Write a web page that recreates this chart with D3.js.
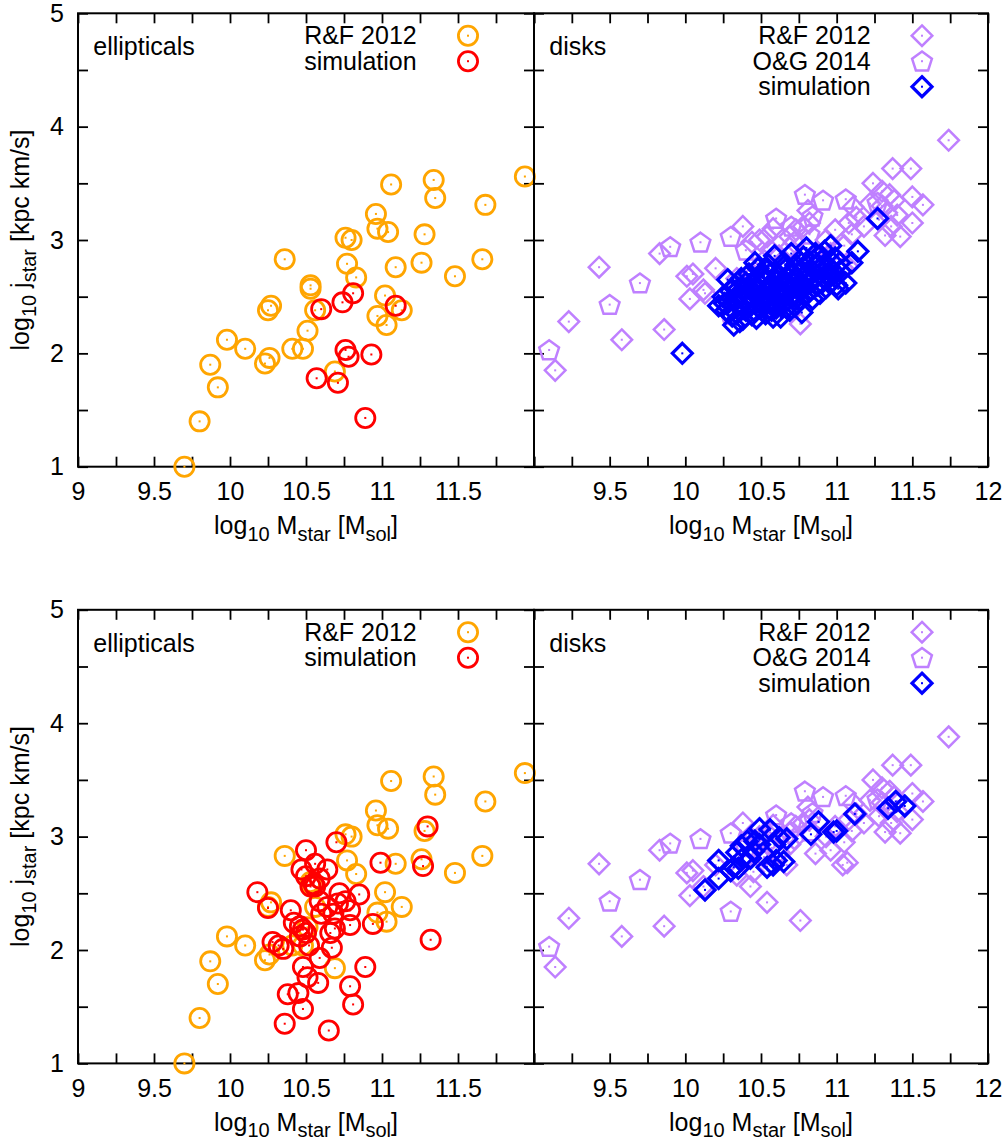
<!DOCTYPE html>
<html>
<head>
<meta charset="utf-8">
<script src="https://cdn.jsdelivr.net/npm/d3@7"></script>
<style>
  body { margin: 0; background: #fff; }
  svg { display: block; }
  text { font-family: "Liberation Sans", Arial, Helvetica, sans-serif; fill: #000; }
</style>
</head>
<body>
<svg id="chart" width="1005" height="1146"></svg>
<script>
// ---------- data: [log10 M_star, log10 j_star] ----------
// Romanowsky & Fall 2012 ellipticals
const ellipticalsRF = [
  [9.70,1.00],[9.80,1.40],[9.87,1.90],[9.92,1.70],[9.98,2.12],[10.10,2.04],[10.23,1.91],[10.26,1.96],
  [10.25,2.38],[10.27,2.42],[10.36,2.83],[10.53,2.60],[10.53,2.57],[10.56,2.38],[10.51,2.20],[10.41,2.04],
  [10.48,2.04],[10.69,1.84],[10.76,3.02],[10.80,3.00],[10.77,2.79],[10.83,2.67],[10.96,3.23],[10.97,3.10],
  [11.04,3.07],[11.06,3.49],[11.34,3.53],[11.35,3.37],[11.94,3.56],[11.68,3.31],[11.28,3.05],[11.09,2.76],
  [11.26,2.80],[11.48,2.68],[11.66,2.83],[11.02,2.51],[10.97,2.33],[11.03,2.25],[11.13,2.38]
];
// simulated ellipticals, upper row
const ellipticalsSimTop = [
  [10.60,2.39],[10.74,2.45],[10.81,2.53],[11.09,2.42],[10.93,1.99],[10.76,2.03],[10.78,1.97],
  [10.57,1.78],[10.71,1.74],[10.89,1.43]
];
// simulated ellipticals, lower row
const ellipticalsSimBottom = [
  [10.18,2.51],[10.25,2.37],[10.40,2.35],[10.50,2.88],[10.70,2.95],[10.99,2.77],[11.30,3.09],[11.27,2.74],
  [11.32,2.09],[10.85,2.49],[10.94,2.23],[10.89,1.85],[10.79,1.68],[10.81,1.52],[10.65,1.29],[10.48,1.48],
  [10.36,1.35],[10.38,1.61],[10.45,1.62],[10.48,1.85],[10.51,1.76],[10.58,1.71],[10.59,1.93],[10.67,2.02],
  [10.28,2.07],[10.32,2.04],[10.35,2.01],[10.46,2.21],[10.48,2.18],[10.50,2.15],[10.46,2.12],[10.47,2.71],
  [10.64,2.71],[10.56,2.56],[10.59,2.63],[10.50,2.65],[10.56,2.76],[10.72,2.50],[10.76,2.43],[10.79,2.35],
  [10.68,2.32],[10.69,2.19],[10.66,2.15],[10.79,2.22],[10.59,2.43],[10.64,2.38],[10.53,2.56],[10.42,2.24],
  [10.60,2.32],[10.52,2.04],[10.55,2.58],[10.71,2.41]
];
// Romanowsky & Fall 2012 disks
const disksRF = [
  [9.14,1.85],[9.23,2.28],[9.43,2.76],[9.58,2.12],[9.86,2.21],[9.83,2.88],[10.01,2.68],[10.03,2.48],
  [10.13,2.53],[10.20,2.75],[10.12,2.56],[10.05,2.70],[10.38,3.12],[10.44,2.98],[10.49,3.00],[10.54,3.03],
  [10.43,2.56],[10.54,2.42],[10.76,2.26],[10.58,3.10],[10.69,3.03],[10.73,3.09],[10.78,3.12],[10.82,3.15],
  [10.81,3.26],[10.86,2.85],[10.96,2.88],[11.07,2.77],[11.04,2.75],[10.99,3.09],[11.08,3.15],[11.13,3.20],
  [11.11,3.29],[11.22,3.32],[11.24,3.50],[11.30,3.43],[11.35,3.40],[11.33,3.24],[11.32,3.04],[11.42,3.03],
  [11.50,3.15],[11.50,3.38],[11.57,3.31],[11.37,3.63],[11.49,3.63],[11.74,3.88],[10.69,2.93],[10.72,2.98],
  [10.67,2.75],[10.45,2.69],[10.34,2.66],[10.62,2.86],[10.57,2.90],[10.52,2.82],[10.93,3.00],[11.05,2.95],
  [11.10,3.05],[11.18,3.12],[11.28,3.18],[11.36,3.12],[11.40,3.22],[11.30,3.30],[11.38,3.35]
];
// Obreschkow & Glazebrook 2014 disks
const disksOG = [
  [9.10,2.03],[9.50,2.43],[9.70,2.62],[9.90,2.94],[10.10,2.98],[10.30,3.03],[10.30,2.34],[10.40,2.91],
  [10.60,3.19],[10.79,3.40],[10.91,3.35],[11.06,3.36],[10.84,3.21],[11.27,3.33],[10.70,3.12],[10.82,3.05]
];
// simulated disks, upper row
const disksSimTop = [
  [9.98,2.00],[10.22,2.42],[10.28,2.65],[10.32,2.25],[10.25,2.50],[10.27,2.38],[10.30,2.55],[10.29,2.46],[10.31,2.33],
  [10.33,2.60],[10.35,2.42],[10.36,2.52],[10.34,2.35],[10.38,2.30],[10.37,2.66],[10.39,2.47],[10.40,2.38],[10.36,2.28],
  [10.41,2.58],[10.42,2.70],[10.43,2.44],[10.44,2.34],[10.45,2.62],[10.46,2.52],[10.47,2.31],[10.48,2.75],[10.49,2.40],
  [10.50,2.60],[10.42,2.50],[10.46,2.80],
  [10.51,2.48],[10.52,2.68],[10.53,2.35],[10.54,2.56],[10.55,2.78],[10.56,2.44],[10.57,2.62],[10.58,2.32],[10.59,2.86],
  [10.60,2.52],[10.53,2.74],[10.57,2.38],[10.55,2.50],
  [10.61,2.70],[10.62,2.45],[10.63,2.32],[10.64,2.60],[10.65,2.80],[10.66,2.54],[10.67,2.40],[10.68,2.66],[10.69,2.38],
  [10.70,2.88],[10.62,2.58],[10.66,2.74],[10.64,2.48],
  [10.71,2.50],[10.72,2.62],[10.73,2.78],[10.74,2.44],[10.75,2.70],[10.76,2.56],[10.77,2.36],[10.78,2.85],[10.79,2.64],
  [10.80,2.93],[10.72,2.42],[10.76,2.48],
  [10.81,2.72],[10.82,2.55],[10.83,2.80],[10.84,2.48],[10.85,2.66],[10.86,2.88],[10.87,2.60],[10.88,2.74],[10.89,2.53],
  [10.90,2.82],[10.91,2.67],[10.92,2.90],[10.93,2.58],[10.95,2.76],[10.96,2.95],[10.97,2.64],[10.99,2.84],[11.00,2.60],
  [11.01,2.57],[11.03,2.72],[11.06,2.62],[11.10,2.80],[11.14,2.90],[11.27,3.19],
  [10.26,2.44],[10.33,2.48],[10.38,2.56],[10.40,2.62],[10.44,2.46],[10.45,2.38],[10.48,2.56],[10.50,2.45],
  [10.52,2.52],[10.54,2.64],[10.56,2.70],[10.58,2.46],[10.58,2.58],[10.60,2.40],[10.61,2.64],[10.63,2.52],
  [10.65,2.44],[10.67,2.62],[10.68,2.48],[10.70,2.56],[10.70,2.72],[10.73,2.52],[10.74,2.66],[10.77,2.60],
  [10.78,2.76],[10.80,2.52],[10.81,2.62],[10.83,2.70],[10.85,2.58],[10.87,2.78],[10.90,2.62],[10.94,2.70],
  [10.96,2.82],[10.98,2.72],[11.02,2.80],[10.50,2.70],[10.44,2.56],[10.35,2.50]
];
// simulated disks, lower row
const disksSimBottom = [
  [10.13,2.53],[10.22,2.63],[10.22,2.79],[10.30,2.70],[10.32,2.73],[10.35,2.72],[10.34,2.86],[10.37,2.92],
  [10.41,2.96],[10.45,2.87],[10.43,2.81],[10.38,2.81],[10.49,3.07],[10.46,2.96],[10.49,2.93],[10.54,2.73],
  [10.58,2.75],[10.60,2.79],[10.65,2.78],[10.56,3.06],[10.62,2.99],[10.67,2.98],[10.59,2.93],[10.83,3.02],
  [10.88,3.13],[10.98,3.04],[11.00,3.05],[11.12,3.20],[11.34,3.25],[11.39,3.31],[11.45,3.27]
];

// tick labels
const xLabelsLeft  = [9, 9.5, 10, 10.5, 11, 11.5];
const xLabelsRight = [9.5, 10, 10.5, 11, 11.5, 12];
const yLabels      = [1, 2, 3, 4, 5];

// ---------- drawing ----------
const COLORS = { orange: "#ffa500", red: "#ff0000", purple: "#bf80ff", blue: "#0000ff" };
const FONT = 25, SUB = 20, SUBSHIFT = 6.5;
const svg = d3.select("#chart");
const fmt = d3.format("~g");

const STYLE = {
  circle:   { r: 9.6,  sw: 2.8 },
  diamond:  { r: 10.3, sw: 2.5 },
  pentagon: { r: 10.4, sw: 2.5 },
  bdiamond: { r: 10.0, sw: 3.2 }
};

function shapePath(kind) {
  const r = STYLE[kind].r;
  if (kind === "circle") {
    const p = d3.path(); p.arc(0, 0, r, 0, 2 * Math.PI); p.closePath(); return p.toString();
  }
  if (kind === "pentagon") {
    const pts = d3.range(5).map(k => {
      const a = -Math.PI / 2 + k * 2 * Math.PI / 5;
      return [r * Math.cos(a), r * Math.sin(a) + 0.8];
    });
    return "M" + pts.map(p => p.join(",")).join("L") + "Z";
  }
  return `M0,${-r}L${r},0L0,${r}L${-r},0Z`;
}

function drawMarkers(g, data, kind, color, x, y) {
  const pts = g.append("g").selectAll("g")
    .data(data)
    .join("g")
    .attr("transform", d => `translate(${x(d[0])},${y(d[1])})`);
  pts.append("path")
    .attr("d", shapePath(kind))
    .attr("fill", "none")
    .attr("stroke", color)
    .attr("stroke-width", STYLE[kind].sw)
    .attr("stroke-linejoin", "miter");
  pts.append("rect")
    .attr("x", -1).attr("y", -1).attr("width", 2).attr("height", 2)
    .attr("fill", color);
}

function legendMarker(g, kind, color, cx, cy) {
  const m = g.append("g").attr("transform", `translate(${cx},${cy})`);
  m.append("path").attr("d", shapePath(kind)).attr("fill", "none")
    .attr("stroke", color).attr("stroke-width", STYLE[kind].sw);
  m.append("rect").attr("x", -1).attr("y", -1).attr("width", 2).attr("height", 2).attr("fill", color);
}

function subText(sel, parts) {
  // parts: [text, isSubscript]
  let shifted = false;
  parts.forEach(([t, sub]) => {
    const ts = sel.append("tspan").text(t);
    if (sub && !shifted) { ts.attr("dy", SUBSHIFT).attr("font-size", SUB); shifted = true; }
    else if (sub) { ts.attr("font-size", SUB); }
    else if (!sub && shifted) { ts.attr("dy", -SUBSHIFT); shifted = false; }
  });
}

const panels = [
  { x0: 78,  x1: 534, y0: 13.3,  y1: 466.7,  type: "ell",  sim: ellipticalsSimTop,    xLab: xLabelsLeft,  yLab: true },
  { x0: 534, x1: 988, y0: 13.3,  y1: 466.7,  type: "disk", sim: disksSimTop,          xLab: xLabelsRight, yLab: false },
  { x0: 78,  x1: 534, y0: 609.8, y1: 1063.4, type: "ell",  sim: ellipticalsSimBottom, xLab: xLabelsLeft,  yLab: true },
  { x0: 534, x1: 988, y0: 609.8, y1: 1063.4, type: "disk", sim: disksSimBottom,       xLab: xLabelsRight, yLab: false }
];

panels.forEach(p => {
  const x = d3.scaleLinear().domain([9, 12]).range([p.x0, p.x1]);
  const y = d3.scaleLinear().domain([1, 5]).range([p.y1, p.y0]);
  const g = svg.append("g");

  const xTickVals = d3.range(9, 12.001, 0.25);
  const yTickVals = d3.range(1, 5.001, 0.5);

  const styleAxis = a => {
    a.select(".domain").remove();
    a.selectAll(".tick line").attr("stroke", "#000").attr("stroke-width", 1.8);
    a.selectAll("text").attr("font-size", FONT).attr("font-family", null).attr("fill", "#000");
    a.attr("font-family", null).attr("font-size", FONT);
  };

  g.append("g").attr("transform", `translate(0,${p.y1})`)
    .call(d3.axisBottom(x).tickValues(xTickVals).tickSizeInner(-10).tickSizeOuter(0).tickPadding(15.8)
      .tickFormat(d => p.xLab.includes(d) ? fmt(d) : ""))
    .call(styleAxis);
  g.append("g").attr("transform", `translate(0,${p.y0})`)
    .call(d3.axisTop(x).tickValues(xTickVals).tickSizeInner(-10).tickSizeOuter(0).tickFormat(""))
    .call(styleAxis);
  g.append("g").attr("transform", `translate(${p.x0},0)`)
    .call(d3.axisLeft(y).tickValues(yTickVals).tickSizeInner(-10).tickSizeOuter(0).tickPadding(14)
      .tickFormat(d => (p.yLab && yLabels.includes(d)) ? fmt(d) : ""))
    .call(styleAxis);
  g.append("g").attr("transform", `translate(${p.x1},0)`)
    .call(d3.axisRight(y).tickValues(yTickVals).tickSizeInner(-10).tickSizeOuter(0).tickFormat(""))
    .call(styleAxis);

  // frame
  g.append("rect")
    .attr("x", p.x0).attr("y", p.y0)
    .attr("width", p.x1 - p.x0).attr("height", p.y1 - p.y0)
    .attr("fill", "none").attr("stroke", "#000").attr("stroke-width", 2);

  // axis titles
  const xt = g.append("text")
    .attr("x", (p.x0 + p.x1) / 2).attr("y", p.y1 + 67.3)
    .attr("text-anchor", "middle").attr("font-size", FONT);
  subText(xt, [["log", false], ["10", true], [" M", false], ["star", true], [" [M", false], ["sol", true], ["]", false]]);

  if (p.yLab) {
    const yt = g.append("text")
      .attr("transform", `translate(29,${(p.y0 + p.y1) / 2}) rotate(-90)`)
      .attr("text-anchor", "middle").attr("font-size", FONT);
    subText(yt, [["log", false], ["10", true], [" j", false], ["star", true], [" [kpc km/s]", false]]);
  }

  // panel name
  g.append("text").attr("x", p.x0 + 15.3).attr("y", p.y0 + 41.7)
    .attr("font-size", FONT).text(p.type === "ell" ? "ellipticals" : "disks");

  // points
  let legend;
  if (p.type === "ell") {
    drawMarkers(g, ellipticalsRF, "circle", COLORS.orange, x, y);
    drawMarkers(g, p.sim, "circle", COLORS.red, x, y);
    legend = [["R&F 2012", "circle", COLORS.orange], ["simulation", "circle", COLORS.red]];
  } else {
    drawMarkers(g, disksRF, "diamond", COLORS.purple, x, y);
    drawMarkers(g, disksOG, "pentagon", COLORS.purple, x, y);
    drawMarkers(g, p.sim, "bdiamond", COLORS.blue, x, y);
    legend = [["R&F 2012", "diamond", COLORS.purple], ["O&G 2014", "pentagon", COLORS.purple], ["simulation", "bdiamond", COLORS.blue]];
  }

  // legend
  legend.forEach(([label, kind, color], i) => {
    const base = p.y0 + 30.7 + i * 25.5;
    g.append("text").attr("x", p.x1 - 117.3).attr("y", base)
      .attr("text-anchor", "end").attr("font-size", FONT).text(label);
    legendMarker(g, kind, color, p.x1 - 66, base - 8.3);
  });
});
</script>
</body>
</html>
